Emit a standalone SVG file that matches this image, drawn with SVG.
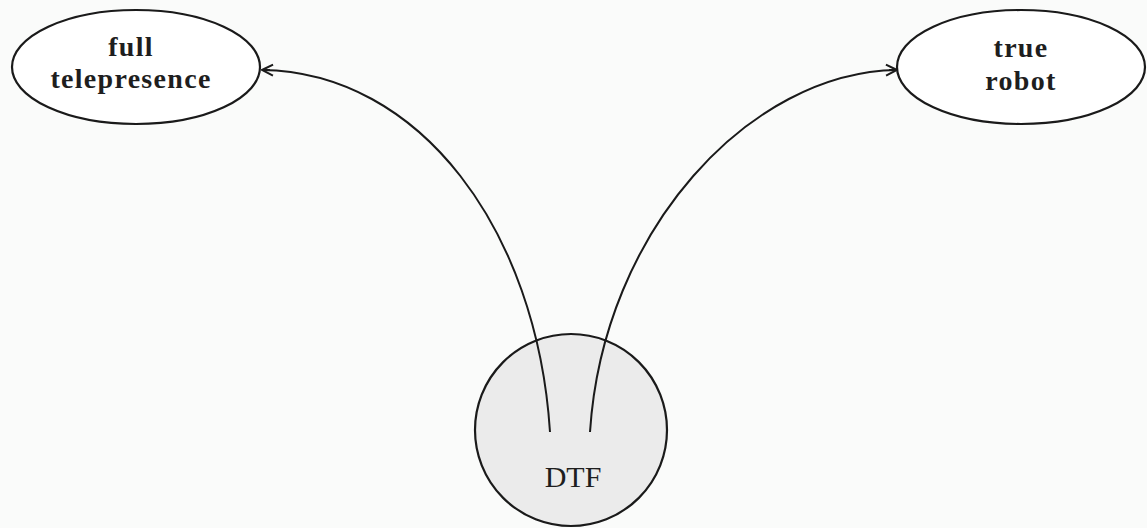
<svg xmlns="http://www.w3.org/2000/svg" width="1147" height="528" viewBox="0 0 1147 528">
<style>
.node{fill:#ffffff;stroke:#1a1a1a;stroke-width:2.2}
.lbl{font-family:"Liberation Serif","Times New Roman",serif;font-size:28px;fill:#1e1e1e;text-anchor:middle}
.b{font-weight:bold;letter-spacing:1.3px}
.edge{fill:none;stroke:#1a1a1a;stroke-width:2}
</style>
<defs>
<marker id="arr" viewBox="0 0 14 14" refX="13" refY="7" markerWidth="14" markerHeight="14" markerUnits="userSpaceOnUse" orient="auto">
<path d="M2,1.5 L13,7 L2,12.5 M5,7 L13,7" fill="none" stroke="#1a1a1a" stroke-width="2"/>
</marker>
</defs>
<rect width="1147" height="528" fill="#fafbfa"/>
<g id="full-telepresence">
<ellipse class="node" cx="136" cy="67" rx="124" ry="57"/>
<text class="lbl b" x="131" y="56">full</text>
<text class="lbl b" x="131" y="88">telepresence</text>
</g>
<g id="true-robot">
<ellipse class="node" cx="1021" cy="67" rx="124" ry="57"/>
<text class="lbl b" x="1021" y="57" fill="#333">true</text>
<text class="lbl b" x="1021" y="90">robot</text>
</g>
<g id="dtf">
<circle cx="571" cy="430" r="96" fill="#ebebeb" stroke="#1a1a1a" stroke-width="2.2"/>
<text class="lbl" x="573" y="487" style="font-size:30px">DTF</text>
</g>
<g id="connectors">
<path class="edge" d="M550,432 C537,230 420,72 262,70" marker-end="url(#arr)"/>
<path class="edge" d="M590,432 C603,230 750,72 897,70" marker-end="url(#arr)"/>
</g>
</svg>
